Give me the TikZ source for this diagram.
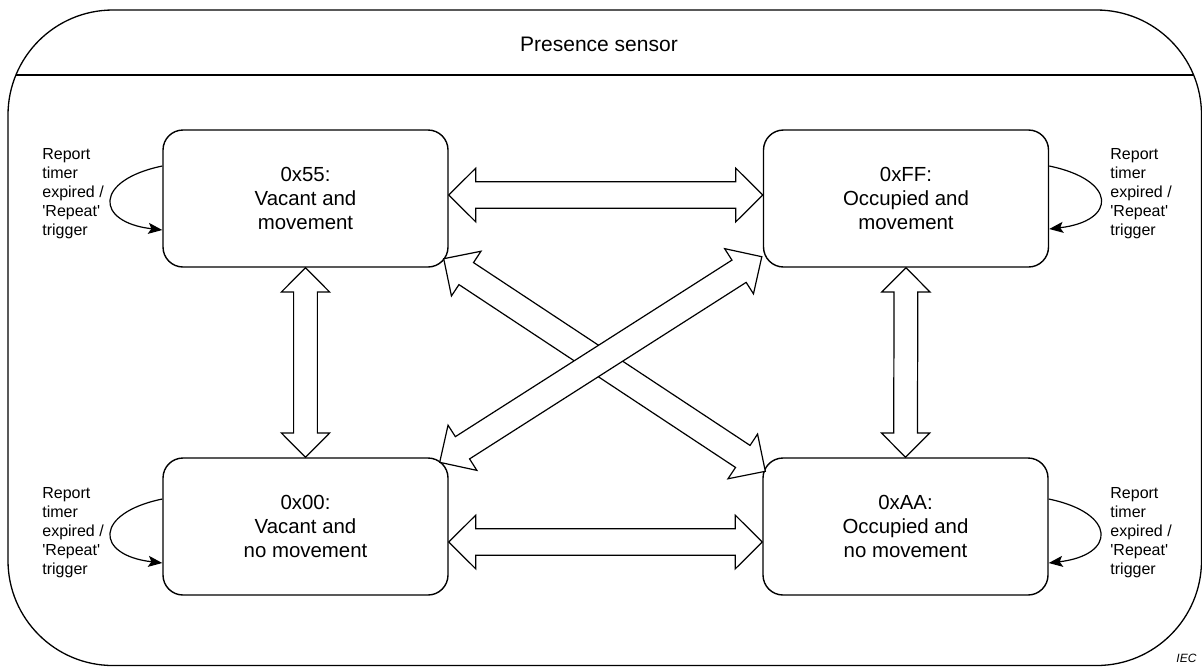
\documentclass[tikz,border=0pt]{standalone}
\usepackage{fontspec}
\setmainfont{Liberation Sans}
\usetikzlibrary{calc,arrows.meta}

% hollow double block arrow between two points, #1 = size factor
\newcommand{\bigarrow}[3][1]{%
  \pgfmathsetlengthmacro{\bhl}{13.5pt*#1}%
  \pgfmathsetlengthmacro{\bhw}{13.4pt*#1}%
  \pgfmathsetlengthmacro{\bsw}{6.6pt*#1}%
  \path (#2) coordinate (p) (#3) coordinate (q)
    ($(p)!\bhl!(q)$) coordinate (hp) ($(q)!\bhl!(p)$) coordinate (hq);
  \draw[bigarr] (p) -- ($(hp)!\bhw!90:(q)$) -- ($(hp)!\bsw!90:(q)$)
    -- ($(hq)!\bsw!-90:(p)$) -- ($(hq)!\bhw!-90:(p)$) -- (q)
    -- ($(hq)!\bhw!90:(p)$) -- ($(hq)!\bsw!90:(p)$)
    -- ($(hp)!\bsw!-90:(q)$) -- ($(hp)!\bhw!-90:(q)$) -- cycle;}
\newcommand{\rpt}{Report\\timer\\expired /\\\textquotesingle Repeat\textquotesingle\\trigger}

\begin{document}
\begin{tikzpicture}[x=0.5pt, y=-0.5pt,
  state/.style={draw, rounded corners=10pt, line width=0.7pt, minimum width=142.5pt,
    minimum height=68.5pt, align=center, inner sep=0pt, font=\fontsize{10.2}{11.8}\selectfont},
  note/.style={anchor=west, align=left, inner sep=0pt, font=\fontsize{8}{9.5}\selectfont},
  bigarr/.style={draw, fill=white, line width=0.6pt, line join=miter},
  selfarr/.style={line width=0.6pt, -{Stealth[length=7pt, width=5.5pt, inset=1.5pt]}}]

\useasboundingbox (0,0) rectangle (1202,666);

%frame
\draw[line width=0.65pt, rounded corners=52.5pt] (8,10) rectangle (1201.5,665.5);
\draw[line width=0.65pt] (16,75) -- (1193.5,75);
\node[font=\fontsize{10.5}{12}\selectfont] (title) at (599,44) {Presence sensor};

%states
\node[state] (s55) at (305.5,198.5) {0x55:\\Vacant and\\movement};
\node[state] (sFF) at (906,198.5) {0xFF:\\Occupied and\\movement};
\node[state] (s00) at (305.5,526.5) {0x00:\\Vacant and\\no movement};
\node[state] (sAA) at (905.5,526.5) {0xAA:\\Occupied and\\no movement};

%transitions
\bigarrow{$(s55.south east)+(-5,-9)$}{$(sAA.north west)+(3,14)$}
\bigarrow{$(s00.north east)+(-9,5)$}{$(sFF.south west)+(-1,-11)$}
\bigarrow{$(s55.east)+(0,-3.5)$}{$(sFF.west)+(0,-3.5)$}
\bigarrow{$(s00.east)+(0,15.5)$}{$(sAA.west)+(0,15.5)$}
\bigarrow[0.9]{s55.south}{s00.north}
\bigarrow[0.9]{sFF.south}{sAA.north}

%self loops
\draw[selfarr] ($(s55.west)+(0,-32.5)$) .. controls +(-68,14) and +(-68,-8) .. ($(s55.west)+(0,31.5)$);
\draw[selfarr] ($(s00.west)+(0,-27.5)$) .. controls +(-68,14) and +(-68,-8) .. ($(s00.west)+(0,36.5)$);
\draw[selfarr] ($(sFF.east)+(0,-32.5)$) .. controls +(68,14) and +(68,-8) .. ($(sFF.east)+(0,30.5)$);
\draw[selfarr] ($(sAA.east)+(0,-27.5)$) .. controls +(68,14) and +(68,-8) .. ($(sAA.east)+(0,36.5)$);

\node[note] (n55) at (42,194) {\rpt};
\node[note] (n00) at (42,533) {\rpt};
\node[note] (nFF) at (1110,194) {\rpt};
\node[note] (nAA) at (1110,533) {\rpt};

\node[anchor=west, inner sep=0pt, font=\fontsize{6}{7}\selectfont\itshape] (iec) at (1176,658) {IEC};
\end{tikzpicture}
\end{document}
